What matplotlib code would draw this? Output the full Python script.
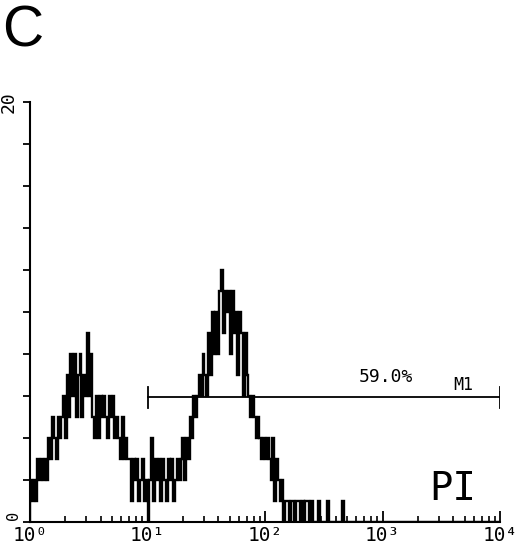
import matplotlib
matplotlib.use("Agg")
import matplotlib.pyplot as plt
import numpy as np

# ---- data (counts per channel, 256 log channels over 4 decades) ----
n_channels = 256
x_min, x_max = 1.0, 1e4
counts = [
    2, 1, 2, 1,
    3, 2, 3, 2, 3, 2,
    4, 3, 5, 4, 3, 5, 4, 5,
    6, 4, 7, 5,
    8, 6, 8, 5, 7, 8, 5, 7,
    6, 9, 6, 8,
    5, 4, 6, 4,
    6, 5, 6, 5, 4, 6, 5, 6, 4, 5,
    4, 3, 5, 3, 4, 3,
    3, 1, 3, 2, 3, 1, 2, 3, 1, 2,
    0,
    2, 4, 1,
    3, 2, 3, 1, 3, 2, 1, 3, 2, 3, 1, 2, 3, 2,
    3, 4, 2, 4, 3,
    5, 4, 6, 5, 6,
    7, 6, 8, 7, 6,
    9, 7, 10, 8, 10, 8, 11,
    12, 9, 11,
    10, 11, 8, 11, 9, 10,
    7, 10, 9, 6, 9, 7,
    6, 5, 6, 5,
    4, 5, 4,
    3, 4, 3, 4, 3,
    2, 4, 1, 3, 2, 1, 2, 0,
    1, 1, 0, 1, 1, 0, 1, 1, 0, 1, 0, 1, 1, 0, 1,
    0, 0, 0, 1, 0, 0, 0, 0, 1, 0, 0, 0, 0, 0, 0, 0, 1, 0,
]
counts = counts + [0] * (n_channels - len(counts))

marker_start, marker_end = 10.0, 1e4
marker_level = 5.95
marker_label = "M1"
marker_pct = "59.0%"
stain_label = "PI"
panel_label = "C"
y_max = 20
x_tick_vals = [1, 10, 100, 1000, 10000]
x_tick_labels = ["10\u2070", "10\u00b9", "10\u00b2", "10\u00b3", "10\u2074"]
y_tick_labels = {0: "0", 20: "20"}

# ---- figure ----
fig = plt.figure(figsize=(5.2, 5.5), dpi=100)
ax = fig.add_axes([30 / 520, 1 - 522 / 550, 470 / 520, 420 / 550])

edges = np.logspace(np.log10(x_min), np.log10(x_max), n_channels + 1)
ax.stairs(counts, edges, color="black", linewidth=1.7, baseline=0)

# marker M1
ax.plot([marker_start, marker_end], [marker_level, marker_level], color="black", lw=1.3)
for xv in (marker_start, marker_end):
    ax.plot([xv, xv], [marker_level - 0.5, marker_level + 0.5], color="black", lw=1.3)

mono = "DejaVu Sans Mono"
ax.text(1070, 6.9, marker_pct, family=mono, fontsize=13, ha="center", va="center")
ax.text(4900, 6.5, marker_label, family=mono, fontsize=12, ha="center", va="center")
ax.text(3980, 1.57, stain_label, family=mono, fontsize=28, ha="center", va="center")

ax.set_xscale("log")
ax.set_xlim(x_min, x_max)
ax.set_ylim(0, y_max)

ax.spines["top"].set_visible(False)
ax.spines["right"].set_visible(False)
for s in ("left", "bottom"):
    ax.spines[s].set_linewidth(1.5)

ax.set_xticks(x_tick_vals)
ax.set_xticklabels(x_tick_labels, family=mono, fontsize=14)
ax.xaxis.set_minor_locator(matplotlib.ticker.LogLocator(base=10, subs=np.arange(2, 10)))
ax.xaxis.set_minor_formatter(matplotlib.ticker.NullFormatter())
ax.tick_params(axis="x", which="major", direction="in", length=8, width=1.3, pad=3)
ax.tick_params(axis="x", which="minor", direction="in", length=4, width=1.2)

ax.set_yticks(np.arange(0, y_max + 1, 2))
ax.set_yticklabels([""] * len(np.arange(0, y_max + 1, 2)))
ax.tick_params(axis="y", which="major", direction="out", length=5, width=1.3, pad=2)
ax.text(-0.036, 0.3, y_tick_labels[0], transform=ax.get_yaxis_transform(), family=mono,
        fontsize=11, rotation=90, ha="center", va="center")
ax.text(-0.045, 20, y_tick_labels[20], transform=ax.get_yaxis_transform(), family=mono,
        fontsize=13, rotation=90, ha="center", va="center")

fig.text(0.004, 0.992, panel_label, family="Liberation Sans", fontsize=41, ha="left", va="top")

fig.savefig("out.png", dpi=100, facecolor="white")
